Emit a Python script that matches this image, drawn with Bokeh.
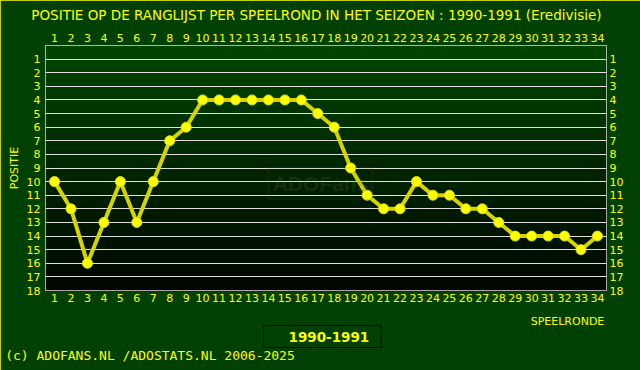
import numpy as np
from bokeh.plotting import figure
from bokeh.models import Label, FixedTicker, LinearAxis, Grid, Title
from bokeh.embed import file_html
from bokeh.resources import INLINE

# ---- data ----
rounds = list(range(1, 35))
positions = [10, 12, 16, 13, 10, 13, 10, 7, 6, 4, 4, 4, 4, 4, 4, 4, 5, 6,
             9, 11, 12, 12, 10, 11, 11, 12, 12, 13, 14, 14, 14, 14, 15, 14]
rank_ticks = list(range(1, 19))
season = "1990-1991"
title_text = "POSITIE OP DE RANGLIJST PER  SPEELROND IN HET SEIZOEN : 1990-1991 (Eredivisie)"
footer_text = "(c) ADOFANS.NL /ADOSTATS.NL 2006-2025"
x_label = "SPEELRONDE"
y_label = "POSITIE"

YELLOW = "#ffff00"
BG = "#004000"

X0, X1 = 0.45, 34.55
p = figure(width=640, height=370, x_range=(X0, X1), y_range=(18, 0),
           output_backend="svg", toolbar_location=None,
           x_axis_location=None, y_axis_location=None,
           min_border_left=45, min_border_right=34, min_border_top=45, min_border_bottom=80,
           background_fill_color="#002000", border_fill_color=BG,
           outline_line_color="#e0e0e0", outline_line_width=1)
p.styles = {"outline": "2px solid #ffff00", "outline-offset": "-2px"}

for g in list(p.center):
    if isinstance(g, Grid):
        g.visible = False

# gradient background of the frame
n = 200
top = np.array([0, 70, 0])
bot = np.array([0, 6, 0])
img = np.zeros((n, 1), dtype=np.uint32)
view = img.view(dtype=np.uint8).reshape((n, 1, 4))
for i in range(n):
    t = i / (n - 1)
    c = top * (1 - t) + bot * t
    view[i, 0, 0] = int(c[0]); view[i, 0, 1] = int(c[1]); view[i, 0, 2] = int(c[2]); view[i, 0, 3] = 255
p.image_rgba(image=[img], x=X0, y=0, dw=X1 - X0, dh=18, level="image")

grid = Grid(dimension=1, ticker=FixedTicker(ticks=rank_ticks), grid_line_color="#e0e0e0", grid_line_width=1)
p.add_layout(grid, "center")

def style_axis(ax, standoff, size="11px", font="DejaVu Sans"):
    ax.major_label_text_color = YELLOW
    ax.major_label_text_font_size = size
    ax.major_label_text_font = font
    ax.axis_line_color = None
    ax.major_tick_line_color = None
    ax.minor_tick_line_color = None
    ax.major_label_standoff = standoff

ax_top = LinearAxis(ticker=FixedTicker(ticks=rounds)); style_axis(ax_top, -2)
ax_bot = LinearAxis(ticker=FixedTicker(ticks=rounds)); style_axis(ax_bot, -3)
ax_left = LinearAxis(ticker=FixedTicker(ticks=rank_ticks), axis_label=y_label); style_axis(ax_left, -1)
ax_left.axis_label_text_color = YELLOW
ax_left.axis_label_text_font = "DejaVu Sans"
ax_left.axis_label_text_font_size = "11px"
ax_left.axis_label_text_font_style = "normal"
ax_left.axis_label_standoff = 3
ax_right = LinearAxis(ticker=FixedTicker(ticks=rank_ticks)); style_axis(ax_right, -3)
p.add_layout(ax_left, "left")
p.add_layout(ax_right, "right")

# data
p.line(rounds, positions, line_color="#d4d400", line_width=4)
p.scatter(rounds, positions, size=10, fill_color=YELLOW, line_color="#e0e000", line_width=1)

# single-label axes used as free texts outside the frame
def px_to_x(px):
    return round(X0 + (px - 45) / 16.45, 2)

def text_axis(px, label, size, font, standoff):
    pos = px_to_x(px)
    ax = LinearAxis(ticker=FixedTicker(ticks=[pos]), major_label_overrides={pos: label})
    style_axis(ax, standoff, size, font)
    ax.major_tick_out = 0
    ax.major_tick_in = 0
    ax.minor_tick_out = 0
    ax.minor_tick_in = 0
    return ax

# above: tick labels, then main title
p.add_layout(ax_top, "above")
p.add_layout(text_axis(318, title_text, "13.5px", "DejaVu Sans", 8), "above")

# below: tick labels, x label, legend box, footer
p.add_layout(ax_bot, "below")
p.add_layout(text_axis(567, x_label, "11px", "DejaVu Sans", 10), "below")

leg = Title(text=season, align="left", offset=218, text_color=YELLOW, text_font="DejaVu Sans",
            text_font_size="13.5px", text_font_style="bold", standoff=0,
            background_fill_color=BG, border_line_color="black", border_line_width=1,
            padding=dict(left=25, right=12, top=6, bottom=6))
leg.standoff = -34
p.add_layout(leg, "below")

p.add_layout(text_axis(149.5, footer_text, "13px", "DejaVu Sans Mono", 17), "below")

# watermark
p.add_layout(Label(x=275, y=107, x_units="screen", y_units="screen", text="ADOFans",
                   text_align="center", text_baseline="middle", text_font_size="21px",
                   text_font="Liberation Sans", text_font_style="bold", text_color="#6b7a2a", text_alpha=0.2,
                   border_line_color="#6b7a2a", border_line_alpha=0.2, padding=4), "center")

open("out.html", "w").write(file_html(p, INLINE))
